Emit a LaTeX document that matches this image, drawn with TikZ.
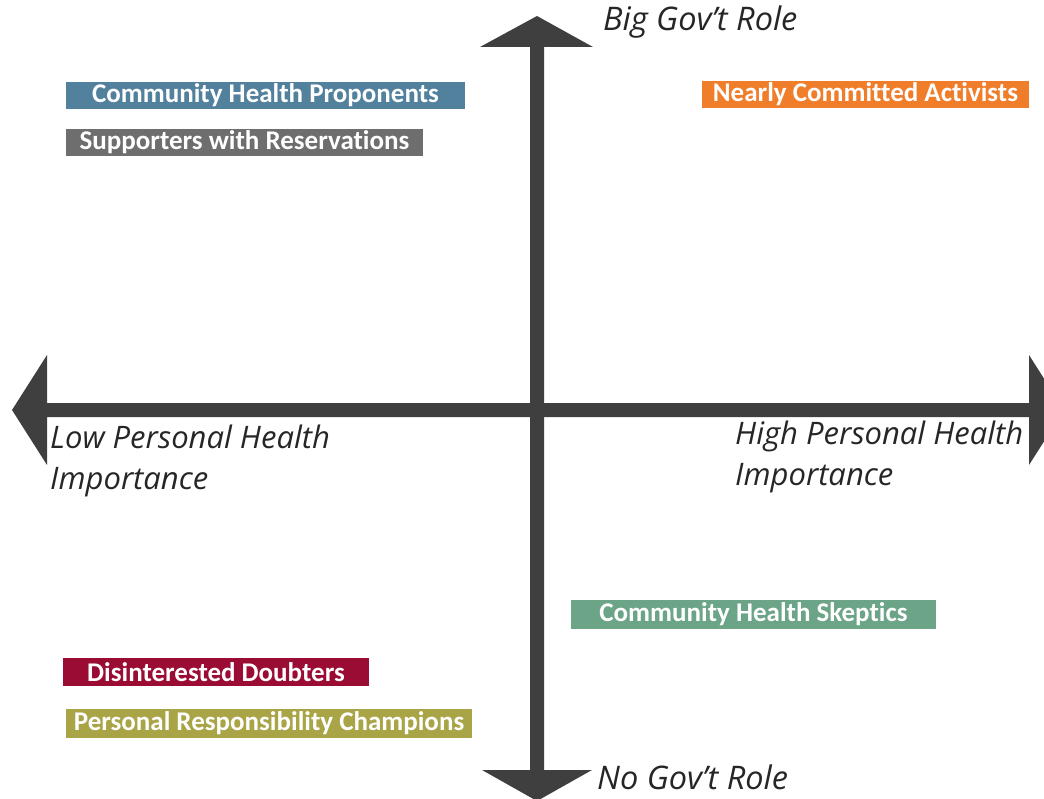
\documentclass[tikz,border=0pt]{standalone}
\usepackage{fontspec}
\setmainfont{Carlito}[Ligatures=NoCommon]
\newfontfamily\axisfont{Open Sans}
\definecolor{axisgray}{HTML}{3F3F3F}
\definecolor{axistext}{HTML}{262626}
\definecolor{proponents}{HTML}{52819D}
\definecolor{reservations}{HTML}{6E6E6E}
\definecolor{activists}{HTML}{F07D2A}
\definecolor{skeptics}{HTML}{6BA487}
\definecolor{doubters}{HTML}{9A0C33}
\definecolor{champions}{HTML}{A9A446}
\tikzset{
  segment/.style={fill=#1, text=white, inner sep=0pt, minimum height=28pt,
    font=\bfseries\fontsize{27}{30}\selectfont},
  axislabel/.style={anchor=west, align=left, inner sep=0pt, text=axistext,
    font=\axisfont\itshape\fontsize{31}{41}\selectfont}
}
\begin{document}
\begin{tikzpicture}[x=1pt,y=-1pt]
      \useasboundingbox (0,0) rectangle (1044,799);
      % axes
      \fill[axisgray] (530,47) -- (480,47) -- (537,16) -- (593,47) -- (544,47)
        -- (544,770) -- (592,770) -- (537,801) -- (482,770) -- (530,770) -- cycle;
      \fill[axisgray] (47,403) -- (47,355) -- (12,410) -- (47,465) -- (47,417)
        -- (1029,417) -- (1029,465) -- (1064,410) -- (1029,355) -- (1029,403) -- cycle;
      % axis labels
      \node[axislabel, font=\axisfont\itshape\fontsize{32.5}{41}\selectfont] (govbig) at (603,22) {Big Gov’t Role};
      \node[axislabel, font=\axisfont\itshape\fontsize{32.5}{41}\selectfont] (govnone) at (597,777) {No Gov’t Role};
      \node[axislabel] (lowhealth) at (50,461) {Low Personal Health\\Importance};
      \node[axislabel] (highhealth) at (735,457) {High Personal Health\\Importance};
      % segments
      \node[segment=proponents, minimum width=399pt, minimum height=27pt] (proponents) at (265.5,95.5) {Community Health Proponents};
      \node[segment=reservations, minimum width=357pt, minimum height=27pt] (reservations) at (244.5,142.5) {Supporters with Reservations};
      \node[segment=activists, minimum width=327pt, minimum height=27pt] (activists) at (865.5,94.5) {Nearly Committed Activists};
      \node[segment=skeptics, minimum width=365pt, minimum height=29pt] (skeptics) at (753.5,614.5) {Community Health Skeptics};
      \node[segment=doubters, minimum width=306pt] (doubters) at (216,672) {Disinterested Doubters};
      \node[segment=champions, minimum width=406pt, minimum height=29pt] (champions) at (269,723.5) {Personal Responsibility Champions};
    \end{tikzpicture}
\end{document}
